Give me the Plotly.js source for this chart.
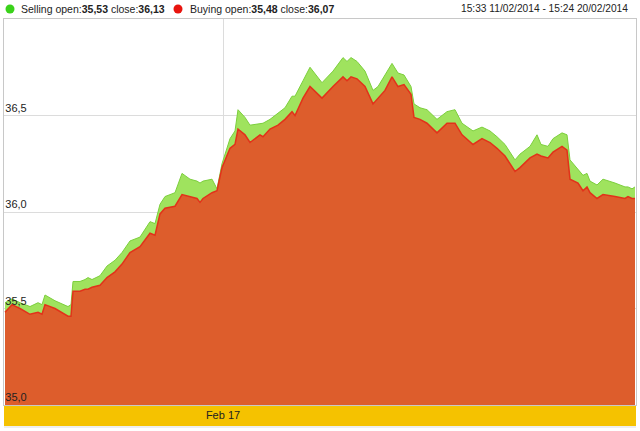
<!DOCTYPE html>
<html>
<head>
<meta charset="utf-8">
<script src="https://cdn.plot.ly/plotly-3.0.1.min.js"></script>
<style>
html,body{margin:0;padding:0;background:#fff;}
#chart{width:640px;height:431px;}
</style>
</head>
<body>
<div id="chart"></div>
<script>
// time index (trading-time position, 0 = 15:33 11/02/2014, 630 = 15:24 20/02/2014)
const t = [0,7,15,25,33,37,40,50,63,66,68,75,80,83,87,95,102,110,117,125,135,145,150,155,160,170,177,185,192,195,198,207,212,217,225,230,233,240,245,255,258,265,273,280,287,290,298,305,317,328,338,342,346,352,360,368,373,380,387,393,399,406,409,415,422,432,442,450,457,468,477,485,492,500,510,515,525,532,536,543,548,557,562,565,573,578,582,585,592,598,610,620,623,627,630];
const selling = [35.53,35.55,35.53,35.51,35.53,35.52,35.57,35.54,35.51,35.52,35.64,35.64,35.65,35.66,35.65,35.67,35.72,35.75,35.79,35.85,35.87,35.95,35.94,36.04,36.08,36.10,36.20,36.17,36.16,36.15,36.16,36.17,36.12,36.25,36.38,36.42,36.53,36.49,36.45,36.46,36.46,36.48,36.51,36.54,36.60,36.60,36.68,36.75,36.67,36.73,36.80,36.78,36.80,36.78,36.73,36.63,36.65,36.71,36.77,36.72,36.71,36.65,36.56,36.54,36.53,36.48,36.52,36.53,36.46,36.42,36.44,36.42,36.39,36.35,36.27,36.30,36.34,36.40,36.35,36.34,36.38,36.41,36.40,36.27,36.22,36.19,36.20,36.16,36.14,36.17,36.15,36.13,36.13,36.12,36.13];
const buying = [35.48,35.52,35.50,35.47,35.48,35.47,35.52,35.50,35.46,35.46,35.59,35.59,35.60,35.60,35.61,35.62,35.66,35.69,35.73,35.79,35.82,35.89,35.88,35.99,36.02,36.03,36.09,36.08,36.07,36.05,36.07,36.10,36.11,36.23,36.33,36.35,36.43,36.40,36.36,36.40,36.39,36.43,36.45,36.48,36.52,36.50,36.59,36.65,36.59,36.65,36.70,36.68,36.70,36.69,36.65,36.56,36.59,36.63,36.70,36.65,36.66,36.61,36.49,36.48,36.46,36.41,36.46,36.46,36.40,36.35,36.38,36.36,36.33,36.29,36.21,36.23,36.28,36.30,36.29,36.28,36.31,36.34,36.32,36.17,36.15,36.11,36.13,36.10,36.07,36.09,36.08,36.07,36.08,36.07,36.07];
const yTicks = [35.0, 35.5, 36.0, 36.5];
const xTickVals = [218];
const xTickText = ['Feb 17'];
const sellingOpen = '35,53', sellingClose = '36,13';
const buyingOpen = '35,48', buyingClose = '36,07';
const rangeText = '15:33 11/02/2014 - 15:24 20/02/2014';

const font = 'Arial, "Liberation Sans", sans-serif';

const traces = [
  {x: t, y: selling, type: 'scatter', mode: 'lines', fill: 'tozeroy',
   fillcolor: '#9fe35e', line: {color: '#7ccf3c', width: 1}, hoverinfo: 'skip', name: 'Selling'},
  {x: t, y: buying, type: 'scatter', mode: 'lines', fill: 'tozeroy',
   fillcolor: '#dd5d2c', line: {color: '#e2321a', width: 1.5}, hoverinfo: 'skip', name: 'Buying'}
];

const plotW = 632, plotH = 386;
const legY = 1 + 10/plotH;
const layout = {
  width: 640, height: 431,
  margin: {l: 4, r: 4, t: 19, b: 26, pad: 0},
  paper_bgcolor: '#ffffff', plot_bgcolor: '#ffffff',
  showlegend: false,
  separators: ',.',
  font: {family: font, size: 11, color: '#222'},
  xaxis: {
    range: [-1, 631], showgrid: true, gridcolor: '#dcdcdc', gridwidth: 1,
    tickmode: 'array', tickvals: xTickVals, ticktext: xTickText,
    ticks: '', showline: true, linecolor: '#c8c8c8', mirror: true,
    zeroline: false, tickfont: {family: font, size: 11, color: '#222'},
    fixedrange: true
  },
  yaxis: {
    range: [35, 37], showgrid: true, gridcolor: '#dcdcdc', gridwidth: 1,
    tickmode: 'array', tickvals: yTicks, tickformat: '.1f',
    ticklabelposition: 'inside top', ticks: '',
    showline: true, linecolor: '#c8c8c8', mirror: true, zeroline: false,
    tickfont: {family: font, size: 11, color: '#222'}, fixedrange: true
  },
  shapes: [
    {type: 'rect', xref: 'paper', yref: 'paper', x0: 0, x1: 1, y0: -21/plotH, y1: 0,
     fillcolor: '#f5c200', line: {width: 0}, layer: 'below'},
    {type: 'line', xref: 'paper', yref: 'paper', x0: 0, x1: 1, y0: -22/plotH, y1: -22/plotH,
     line: {color: '#dddddd', width: 1}},
    {type: 'circle', xref: 'paper', yref: 'paper', xsizemode: 'pixel', ysizemode: 'pixel',
     xanchor: 6/plotW, yanchor: legY, x0: -4.5, x1: 4.5, y0: -4.5, y1: 4.5,
     fillcolor: '#3ad21a', line: {width: 0}},
    {type: 'circle', xref: 'paper', yref: 'paper', xsizemode: 'pixel', ysizemode: 'pixel',
     xanchor: 174/plotW, yanchor: legY, x0: -4.5, x1: 4.5, y0: -4.5, y1: 4.5,
     fillcolor: '#e8140e', line: {width: 0}}
  ],
  annotations: [
    {xref: 'paper', yref: 'paper', x: 15/plotW, y: legY, xanchor: 'left', yanchor: 'middle',
     showarrow: false, font: {family: font, size: 10.5, color: '#222'},
     text: 'Selling open:<b>' + sellingOpen + '</b> close:<b>' + sellingClose + '</b>'},
    {xref: 'paper', yref: 'paper', x: 184/plotW, y: legY, xanchor: 'left', yanchor: 'middle',
     showarrow: false, font: {family: font, size: 10.5, color: '#222'},
     text: 'Buying open:<b>' + buyingOpen + '</b> close:<b>' + buyingClose + '</b>'},
    {xref: 'paper', yref: 'paper', x: 626/plotW, y: legY, xanchor: 'right', yanchor: 'middle',
     showarrow: false, font: {family: font, size: 10.2, color: '#222'}, text: rangeText}
  ]
};

Plotly.newPlot('chart', traces, layout, {displayModeBar: false, staticPlot: true});
</script>
</body>
</html>
